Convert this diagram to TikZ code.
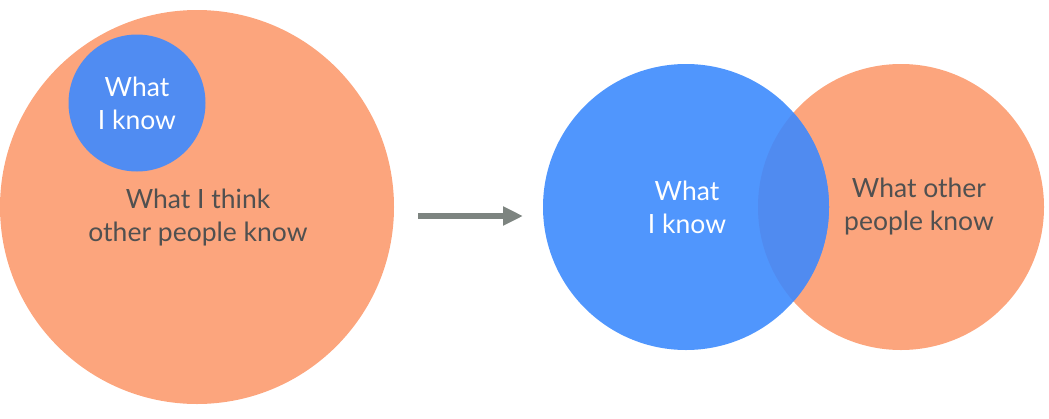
\documentclass[tikz,border=0pt]{standalone}
\usepackage{fontspec}
\setmainfont{Lato}
\usetikzlibrary{arrows.meta}
\definecolor{kn_orange}{RGB}{252,165,125}
\definecolor{kn_blue}{RGB}{80,150,253}
\definecolor{kn_small}{RGB}{80,140,242}
\definecolor{kn_mid}{RGB}{80,139,240}
\definecolor{kn_text}{RGB}{80,80,80}
\definecolor{kn_arrow}{RGB}{125,132,128}
\tikzstyle{on}=[circle,fill=kn_orange,inner sep=0pt]
\tikzstyle{bn}=[circle,fill=kn_blue,inner sep=0pt]
\tikzstyle{lbl}=[align=center,inner sep=0pt,font=\fontsize{26.5}{33}\selectfont]

\begin{document}
\begin{tikzpicture}[x=1pt,y=-1pt]
    \useasboundingbox (0,0) rectangle (1049,418);
    % left: what I think
    \node [style=on,minimum size=394pt] (think) at (197,207) {};
    \node [style=bn,fill=kn_small,minimum size=137pt] (mine) at (137,103) {};
    \node [style=lbl,text=white] (mine_t) at (137,103) {What\\I know};
    \node [style=lbl,text=kn_text] (think_t) at (198,218) {What I think\\other people know};
    % arrow
    \coordinate (as) at (418,216);
    \coordinate (ae) at (523,216);
    \draw [kn_arrow,line width=6pt,-{Triangle[length=20pt,width=18pt]}] (as) to (ae);
    % right: what others know
    \node [style=on,minimum size=286pt] (other) at (901,207) {};
    \node [style=bn,minimum size=286pt] (know) at (686,207) {};
    \begin{scope}
        \clip (know.center) circle (143pt);
        \fill [kn_mid] (other.center) circle (143pt);
    \end{scope}
    \node [style=lbl,text=white] (know_t) at (687,207) {What\\I know};
    \node [style=lbl,text=kn_text] (other_t) at (919,207) {What other\\people know};
\end{tikzpicture}
\end{document}
